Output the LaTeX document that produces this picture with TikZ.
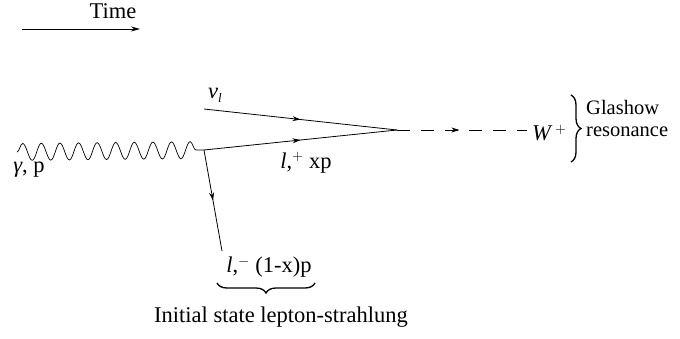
\documentclass[tikz,border=0pt]{standalone}
\usepackage{fontspec}
\setmainfont{Liberation Serif}
\usetikzlibrary{decorations.pathmorphing,decorations.markings,decorations.pathreplacing,arrows.meta}
\tikzset{
  lbl/.style={inner sep=0pt, font=\fontsize{22.5}{25}\selectfont},
  fermion/.style={line width=0.8pt, postaction={decorate},
    decoration={markings, mark=at position 0.5 with {\arrow{Stealth[length=8pt,width=5pt]}}}},
  scalar/.style={line width=0.8pt, dash pattern=on 13pt off 11pt, postaction={decorate},
    decoration={markings, mark=at position 0.48 with {\arrow{Stealth[length=8pt,width=5pt]}}}},
  photon/.style={line width=0.7pt, decorate, decoration={snake, amplitude=8.5pt, segment length=18.6pt}},
  bracestyle/.style={line width=1.3pt, decorate, decoration={brace, amplitude=10pt}},
  vtx/.style={coordinate}
}
\begin{document}
\begin{tikzpicture}[x=1pt,y=-1pt]
\useasboundingbox (0,0) rectangle (680,338);
% time arrow
\coordinate (t0) at (22,29);
\coordinate (t1) at (140,29);
\draw[line width=0.8pt, -{Stealth[length=9pt,width=5pt]}] (t0) -- (t1);
\node[lbl] (time) at (113,11) {Time};
% vertices
\node[vtx] (v1) at (204,150) {};
\node[vtx] (v2) at (397,130) {};
\node[vtx] (g0) at (17,152) {};
\node[vtx] (nu0) at (204,109) {};
\node[vtx] (lm) at (222,251) {};
\node[vtx] (w) at (527,130) {};
% lines
\draw[photon] (g0) -- (v1);
\draw[fermion] (nu0) -- (v2);
\draw[fermion] (v1) -- (v2);
\draw[fermion] (v1) -- (lm);
\draw[scalar] (v2) -- (w);
% labels
\node[lbl] (gam) at (29,170) {\textit{γ}, p};
\node[lbl] (nul) at (215,95) {\textit{ν}{\fontsize{13}{13}\selectfont\raisebox{-4pt}{\textit{l}}}};
\node[lbl] (lp) at (306,163) {\textit{l},$^{+}$ xp};
\node[lbl, anchor=west] (W) at (532,133) {\textit{W}$^{\,+}$};
\node[lbl] (lmin) at (269,267) {\textit{l},$^{\mathbf{-}}$ (1-x)p};
% braces
\draw[bracestyle] (571,95) -- (571,162);
\node[lbl, anchor=base west, font=\fontsize{20.5}{20.5}\selectfont] (glas) at (586,114) {Glashow};
\node[lbl, anchor=base west, font=\fontsize{20.5}{20.5}\selectfont] (reso) at (586,136) {resonance};
\draw[bracestyle] (315,283) -- (217,283);
\node[lbl] (isr) at (281,317) {Initial state lepton-strahlung};
\end{tikzpicture}
\end{document}
